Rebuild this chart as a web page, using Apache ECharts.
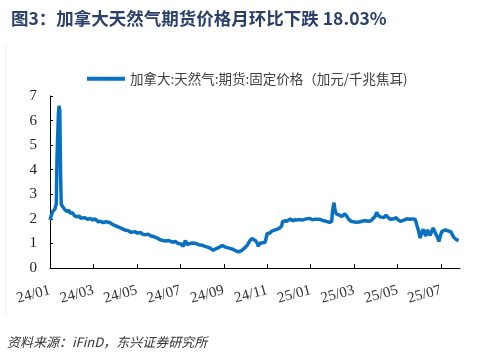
<!DOCTYPE html>
<html><head><meta charset="utf-8">
<script src="https://cdn.jsdelivr.net/npm/echarts@6/dist/echarts.min.js"></script>
<style>html,body{margin:0;padding:0;background:#fff}#c{width:492px;height:358px}</style>
</head><body><div id="c"></div>
<script>
const titleText = '图3：加拿大天然气期货价格月环比下跌 18.03%';
const seriesName = '加拿大:天然气:期货:固定价格（加元/千兆焦耳)';
const sourceText = '资料来源：iFinD，东兴证券研究所';
const baseDate = '2024-01-01';
// day offsets from baseDate
const dayOffsets = [0,2,4,7,9,10,12,13,14,15,16,18,21,24,27,29,32,35,38,41,43,48,52,56,59,62,64,67,70,74,78,83,87,91,95,99,104,106,109,113,118,122,126,129,133,137,141,145,150,154,158,162,166,171,175,179,183,186,189,192,196,200,204,208,213,217,221,225,229,234,238,242,246,250,255,259,263,266,269,271,274,277,280,283,285,288,291,292,294,297,299,302,305,308,311,313,316,319,322,325,326,329,332,334,337,340,343,346,348,351,354,357,360,362,365,368,371,374,376,379,382,385,388,390,393,396,397,399,400,402,404,406,409,411,413,416,418,421,424,428,432,436,441,445,449,452,455,457,459,462,464,467,470,473,476,478,481,484,487,490,492,495,499,504,508,511,513,516,518,520,522,524,526,528,530,532,534,536,538,540,542,544,546,548,550,553,555,558,561,563,565,567,569,572];
const prices = [1.95,2.15,2.3,2.4,2.6,4.5,6.3,6.6,6.4,4.0,2.6,2.5,2.38,2.3,2.35,2.22,2.25,2.12,2.08,2.12,2.02,2.05,1.98,2.02,1.95,2.0,1.92,1.88,1.9,1.85,1.88,1.85,1.78,1.72,1.68,1.62,1.55,1.6,1.52,1.45,1.48,1.42,1.45,1.38,1.35,1.38,1.3,1.28,1.22,1.15,1.12,1.1,1.12,1.05,1.08,1.0,0.98,0.88,1.12,0.95,1.0,1.02,1.0,0.95,0.93,0.88,0.85,0.8,0.72,0.8,0.85,0.92,0.85,0.82,0.78,0.72,0.66,0.68,0.72,0.8,0.85,0.95,1.1,1.2,1.15,1.12,1.0,0.88,1.0,1.02,1.0,1.05,1.42,1.4,1.5,1.52,1.55,1.58,1.62,1.72,1.88,1.92,1.9,1.95,2.0,1.92,1.96,1.95,1.95,1.97,1.95,1.98,2.0,2.08,2.02,1.96,1.98,1.98,1.95,1.98,1.95,1.92,1.9,1.88,1.86,1.9,2.3,2.66,2.4,2.2,2.12,2.15,2.1,2.12,2.2,2.08,1.98,1.9,1.88,1.86,1.87,1.9,1.93,1.9,1.92,2.02,2.1,2.27,2.15,2.08,2.12,2.05,2.15,2.05,1.98,2.02,2.0,2.05,1.95,1.9,1.98,1.95,2.0,1.98,2.0,1.98,1.9,1.5,1.22,1.4,1.58,1.45,1.3,1.55,1.62,1.32,1.5,1.63,1.5,1.42,1.25,1.08,1.3,1.48,1.5,1.55,1.55,1.5,1.47,1.4,1.25,1.2,1.15,1.12];
const tickLabels = ['24/01','24/03','24/05','24/07','24/09','24/11','25/01','25/03','25/05','25/07'];
const axisEndDate = '2025-07-28';

// convert a date to a fractional month index counted from baseDate's month
const DAY = 86400000;
const t0 = Date.parse(baseDate + 'T00:00:00Z');
function monthIndex(ts) {
  const d = new Date(ts);
  const y = d.getUTCFullYear(), m = d.getUTCMonth();
  const dim = new Date(Date.UTC(y, m + 1, 0)).getUTCDate();
  return (y - 2024) * 12 + m + (d.getUTCDate() - 1) / dim;
}
const data = dayOffsets.map((d, i) => [monthIndex(t0 + d * DAY), prices[i]]);
const xMax = monthIndex(Date.parse(axisEndDate + 'T00:00:00Z'));
const serif = "'Liberation Serif', 'Times New Roman', 'DejaVu Serif', serif";

const chart = echarts.init(document.getElementById('c'));
chart.setOption({
  animation: false,
  backgroundColor: '#fff',
  title: {
    text: titleText, left: 6, top: 5,
    textStyle: { fontSize: 17.5, fontWeight: 'bold', color: '#2A3F6A', fontFamily: 'Noto Sans CJK SC' }
  },
  legend: {
    left: 82, top: 67, itemWidth: 38, itemHeight: 4, itemGap: 5,
    icon: 'rect',
    textStyle: { fontSize: 13.5, color: '#404040', fontFamily: 'Noto Sans CJK SC' },
    data: [seriesName]
  },
  grid: { left: 50, right: 32, top: 96, bottom: 90, containLabel: false },
  xAxis: {
    type: 'value', min: 0, max: xMax, interval: 2,
    axisLine: { lineStyle: { color: '#000', width: 1 } },
    axisTick: { show: true, inside: true, length: 4, lineStyle: { color: '#000' } },
    axisLabel: {
      rotate: 15, margin: 22, showMaxLabel: false,
      fontFamily: serif, fontSize: 15, color: '#333',
      formatter: v => tickLabels[Math.round(v / 2)] || ''
    },
    splitLine: { show: false }
  },
  yAxis: {
    type: 'value', min: 0, max: 7, interval: 1,
    axisLine: { show: true, lineStyle: { color: '#000', width: 1 } },
    axisTick: { show: true, inside: true, length: 3, lineStyle: { color: '#000' } },
    axisLabel: { fontFamily: serif, fontSize: 15, color: '#222', margin: 13 },
    splitLine: { show: false }
  },
  series: [{
    name: seriesName, type: 'line', data: data, showSymbol: false, symbol: 'none',
    lineStyle: { color: '#0A70C0', width: 3.5 }, itemStyle: { color: '#0A70C0' }
  }],
  graphic: [
    { type: 'text', left: 7, top: 336, style: { text: sourceText, fontSize: 13, fontStyle: 'italic', fill: '#333', fontFamily: 'Noto Sans CJK SC' } },
    { type: 'line', shape: { x1: 5.5, y1: 45, x2: 5.5, y2: 315 }, style: { stroke: '#eeeeee', lineWidth: 1 } }
  ]
});
</script></body></html>
